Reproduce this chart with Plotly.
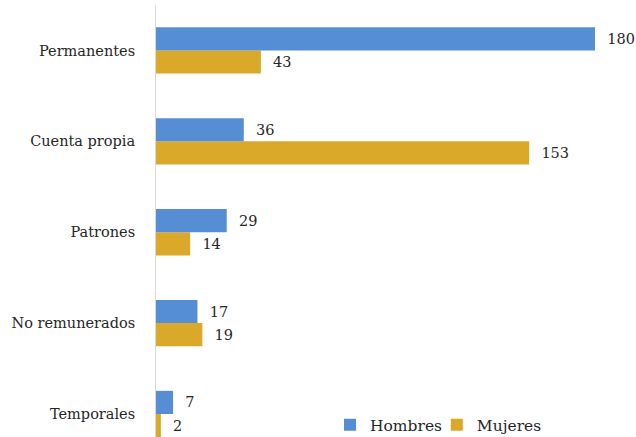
import plotly.graph_objects as go

categories = ["Temporales", "No remunerados", "Patrones", "Cuenta propia", "Permanentes"]
hombres = [7, 17, 29, 36, 180]
mujeres = [2, 19, 14, 153, 43]

font = "DejaVu Serif"

fig = go.Figure()
fig.add_trace(go.Bar(y=categories, x=mujeres, name="Mujeres", orientation="h",
                     marker=dict(color="#DAA92A", line=dict(width=0)),
                     text=mujeres, texttemplate="  %{x}", textposition="outside", cliponaxis=False,
                     textfont=dict(family=font, size=14.5, color="#262626"), legend="legend2"))
fig.add_trace(go.Bar(y=categories, x=hombres, name="Hombres", orientation="h",
                     marker=dict(color="#558ED5", line=dict(width=0)),
                     text=hombres, texttemplate="  %{x}", textposition="outside", cliponaxis=False,
                     textfont=dict(family=font, size=14.5, color="#262626"), legend="legend"))

legend_style = dict(orientation="h", y=-0.012, xanchor="left", yanchor="bottom",
                    font=dict(family=font, size=15.5, color="#262626"),
                    bgcolor="rgba(0,0,0,0)", itemwidth=30)

fig.update_layout(
    width=636, height=437,
    margin=dict(l=156, r=0, t=4.5, b=0, autoexpand=False),
    paper_bgcolor="white", plot_bgcolor="white",
    barmode="group", bargap=0.49, bargroupgap=0,
    font=dict(family=font, size=14.5, color="#262626"),
    showlegend=True,
    legend=dict(x=0.3625, **legend_style),
    legend2=dict(x=0.585, **legend_style),
    xaxis=dict(range=[0, 196.8], showticklabels=False, showgrid=False, zeroline=False,
               showline=False, ticks="", automargin=False),
    yaxis=dict(range=[-0.253, 4.5], showgrid=False, zeroline=False, automargin=False,
               showline=True, linecolor="#d9d9d9", linewidth=1, ticks="",
               tickfont=dict(family=font, size=14.5, color="#262626"), ticklabelstandoff=17),
)

fig.write_html("out.html", config={"displayModeBar": False},
               post_script="document.body.style.margin='0';")
